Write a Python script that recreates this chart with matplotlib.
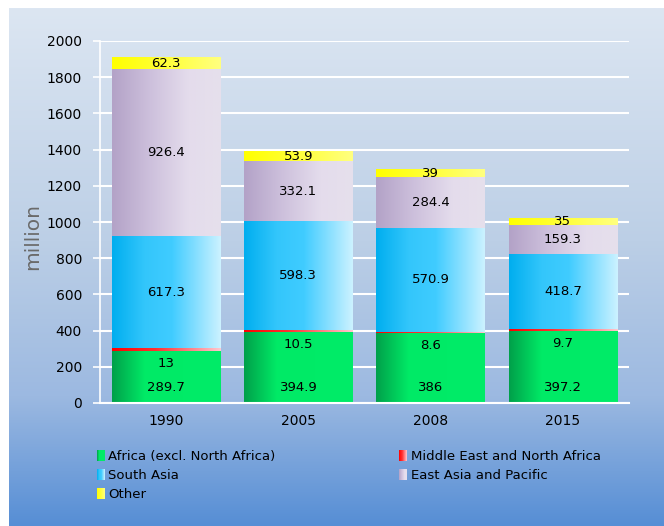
import numpy as np
import matplotlib
matplotlib.use("Agg")
import matplotlib.pyplot as plt
from matplotlib.colors import LinearSegmentedColormap
from matplotlib.patches import Rectangle
from matplotlib.legend_handler import HandlerBase

years = ["1990", "2005", "2008", "2015"]
africa = [289.7, 394.9, 386, 397.2]
mena = [13, 10.5, 8.6, 9.7]
south_asia = [617.3, 598.3, 570.9, 418.7]
east_asia = [926.4, 332.1, 284.4, 159.3]
other = [62.3, 53.9, 39, 35]
series_names = ["Africa (excl. North Africa)", "Middle East and North Africa",
                "South Asia", "East Asia and Pacific", "Other"]
yticks = [0, 200, 400, 600, 800, 1000, 1200, 1400, 1600, 1800, 2000]

grads = {
    "africa": [(0.0, "#00a04a"), (0.3, "#00ea66"), (1.0, "#00ec68")],
    "mena": [(0.0, "#ff0000"), (0.4, "#ff3030"), (1.0, "#ffc8d0")],
    "south": [(0.0, "#00aeef"), (0.3, "#33c6fb"), (0.55, "#40ccff"), (1.0, "#ccf2ff")],
    "east": [(0.0, "#b3a2c7"), (0.35, "#cdc0dc"), (0.7, "#e4dcec"), (1.0, "#e6e0ec")],
    "other": [(0.0, "#ffff00"), (0.55, "#ffff40"), (1.0, "#ffff80")],
}
cmaps = {k: LinearSegmentedColormap.from_list(k, v) for k, v in grads.items()}

W, H = 664, 526
fig = plt.figure(figsize=(W / 100, H / 100), dpi=100)
fig.patch.set_facecolor("white")

# background gradient
bg = fig.add_axes([9 / W, 0, 1 - 9 / W, 1 - 8 / H])
bg.set_axis_off()
bgcmap = LinearSegmentedColormap.from_list(
    "bg", [(0.0, "#dce6f2"), (0.45, "#bccfe6"), (0.75, "#9cb9e1"), (1.0, "#568ed5")])
grad = np.linspace(0, 1, 256).reshape(-1, 1)
bg.imshow(grad, aspect="auto", cmap=bgcmap, extent=[0, 1, 0, 1], origin="upper")
bg.set_xlim(0, 1)
bg.set_ylim(0, 1)

# main axes
x0, x1 = 100, 629
y0, y1 = 403, 41
ax = fig.add_axes([x0 / W, 1 - y0 / H, (x1 - x0) / W, (y0 - y1) / H])
ax.patch.set_alpha(0)
x = np.arange(len(years))
ax.set_yticks(yticks)
ax.set_yticklabels([str(v) for v in yticks], fontsize=10)
ax.set_xticks(x)
ax.set_xticklabels(years, fontsize=10)
ax.grid(axis="y", color="white", linewidth=1.5, zorder=0)
ax.set_axisbelow(True)
for s in ["top", "right"]:
    ax.spines[s].set_visible(False)
ax.spines["left"].set_color("white")
ax.spines["bottom"].set_color("white")
ax.spines["left"].set_linewidth(1.2)
ax.spines["bottom"].set_linewidth(1.5)
ax.tick_params(axis="y", colors="white", labelcolor="black", length=5, width=1.2, pad=8)
ax.tick_params(axis="x", length=0, pad=8, labelcolor="black")
ax.set_ylabel("million", fontsize=14.5, color="#6a6a6a")
ax.yaxis.set_label_coords((42 - x0) / (x1 - x0), (y0 - 236) / (y0 - y1))

bw = 0.82
stack = [("africa", africa), ("mena", mena), ("south", south_asia),
         ("east", east_asia), ("other", other)]
bottom = np.zeros(len(years))
gx = np.linspace(0, 1, 256).reshape(1, -1)
for key, vals in stack:
    bars = ax.bar(x, vals, bw, bottom=bottom, color="none", edgecolor="none", zorder=2)
    for b in bars:
        ax.imshow(gx, cmap=cmaps[key], aspect="auto", interpolation="bilinear",
                  extent=[b.get_x(), b.get_x() + b.get_width(), b.get_y(), b.get_y() + b.get_height()],
                  zorder=2)
    bottom = bottom + np.array(vals)
ax.set_xlim(-0.5, 3.5)
ax.set_ylim(0, 2000)
ax.set_aspect("auto")

fs = 9.5
for i in range(len(years)):
    ax.annotate(f"{africa[i]:g}", (x[i], 0), xytext=(0, 11), textcoords="offset points",
                ha="center", va="center", fontsize=fs, zorder=5)
    ax.annotate(f"{mena[i]:g}", (x[i], africa[i]), xytext=(0, -9), textcoords="offset points",
                ha="center", va="center", fontsize=fs, zorder=5)
    b0 = africa[i] + mena[i]
    ax.text(x[i], b0 + south_asia[i] / 2, f"{south_asia[i]:g}", ha="center", va="center",
            fontsize=fs, zorder=5)
    b1 = b0 + south_asia[i]
    ax.text(x[i], b1 + east_asia[i] / 2, f"{east_asia[i]:g}", ha="center", va="center",
            fontsize=fs, zorder=5)
    b2 = b1 + east_asia[i]
    ax.text(x[i], b2 + other[i] / 2, f"{other[i]:g}", ha="center", va="center",
            fontsize=fs, zorder=5)


class GradHandle:
    def __init__(self, key):
        self.key = key


class GradHandler(HandlerBase):
    def create_artists(self, legend, orig_handle, xdescent, ydescent, width, height, fontsize, trans):
        cm = cmaps[orig_handle.key]
        n = 8
        arts = []
        for j in range(n):
            r = Rectangle((-xdescent + width * j / n, -ydescent), width / n + 0.05, height,
                          facecolor=cm((j + 0.5) / n), edgecolor="none", transform=trans)
            arts.append(r)
        return arts


order = [0, 2, 4, 1, 3]
keys = ["africa", "mena", "south", "east", "other"]
handles = [GradHandle(keys[k]) for k in order]
labels = [series_names[k] for k in order]
fig.legend(handles, labels, handler_map={GradHandle: GradHandler()}, ncol=2,
           loc="upper left", bbox_to_anchor=(97 / W, 1 - 450 / H), frameon=False,
           fontsize=9.5, handlelength=0.6, handleheight=0.9, handletextpad=0.25,
           columnspacing=9.4, labelspacing=0.45, borderaxespad=0, borderpad=0)

fig.savefig("out.png", dpi=100)
